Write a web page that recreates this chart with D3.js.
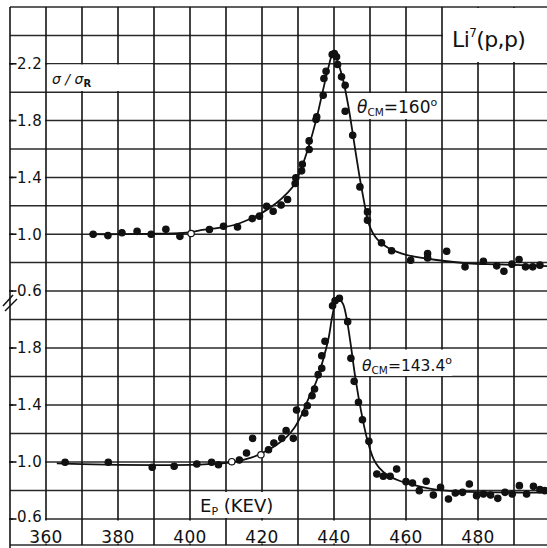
<!DOCTYPE html>
<html>
<head>
<meta charset="utf-8">
<script src="https://cdn.jsdelivr.net/npm/d3@7"></script>
<style>
  html, body { margin: 0; padding: 0; background: #fff; }
  svg { display: block; }
  text { font-family: "DejaVu Sans", sans-serif; fill: #111; }
</style>
</head>
<body>
<svg id="chart" width="547" height="548"></svg>
<script>
// ---------- data ----------
const xTicks = [360, 380, 400, 420, 440, 460, 480];
const yTicksTop = [0.6, 1.0, 1.4, 1.8, 2.2];
const yTicksBot = [0.6, 1.0, 1.4, 1.8];

// theta_CM = 160 deg (upper panel)
const topE = [373.1, 377.2, 381.1, 385.3, 389.2, 393.3, 397.2, 400.3, 405.4, 409.3, 413.2, 417.3, 419.3, 421.3, 423.1, 425.3, 427.1, 429.2, 429.4, 431.0, 431.2, 433.1, 433.1, 435.0, 435.2, 437.0, 437.2, 437.8, 439.5, 440.1, 440.7, 441.0, 442.1, 443.1, 443.1, 445.2, 447.2, 449.3, 449.3, 453.2, 456.0, 461.3, 466.0, 466.0, 471.3, 476.4, 481.5, 485.2, 487.2, 489.4, 491.4, 493.2, 495.2, 497.2];
const topV = [1.00, 0.99, 1.01, 1.02, 1.00, 1.035, 0.985, 1.005, 1.033, 1.056, 1.051, 1.11, 1.127, 1.197, 1.162, 1.206, 1.244, 1.357, 1.397, 1.446, 1.493, 1.596, 1.657, 1.808, 1.826, 1.979, 2.096, 2.148, 2.265, 2.272, 2.249, 2.195, 2.108, 2.049, 1.866, 1.697, 1.333, 1.157, 1.099, 0.939, 0.883, 0.817, 0.864, 0.833, 0.880, 0.770, 0.810, 0.777, 0.739, 0.789, 0.822, 0.770, 0.770, 0.782];
const topOpen = [400.3];
const topCurveE = [372, 380, 390, 400, 403, 408, 412, 416, 420, 424, 427, 429, 431, 433, 435, 437, 438.5, 439.5, 440.3, 441, 442.5, 444, 445.5, 447, 448.2, 449.2, 450, 451.5, 453, 455, 457.5, 460, 464, 468, 477, 486, 500];
const topCurveV = [1.0, 1.0, 1.003, 1.012, 1.028, 1.045, 1.063, 1.10, 1.15, 1.22, 1.29, 1.35, 1.47, 1.62, 1.80, 2.02, 2.18, 2.26, 2.27, 2.22, 2.09, 1.90, 1.66, 1.42, 1.25, 1.12, 1.05, 0.98, 0.94, 0.905, 0.875, 0.855, 0.835, 0.82, 0.795, 0.787, 0.775];

// theta_CM = 143.4 deg (lower panel)
const botE = [365.3, 377.3, 389.5, 395.6, 401.9, 406.0, 407.9, 411.6, 413.7, 415.7, 417.4, 419.7, 421.8, 423.3, 425.5, 426.7, 428.7, 429.6, 431.9, 432.6, 433.9, 434.6, 435.6, 436.6, 436.6, 437.5, 439.6, 440.3, 441.5, 443.8, 444.7, 445.6, 446.8, 447.9, 449.7, 451.9, 453.7, 455.6, 457.4, 460.0, 461.8, 463.7, 465.6, 467.6, 469.6, 471.8, 473.7, 475.7, 477.6, 479.6, 481.5, 483.5, 485.5, 487.5, 489.5, 491.5, 493.5, 495.4, 497.2, 498.6];
const botV = [0.998, 0.998, 0.963, 0.970, 0.986, 0.998, 0.981, 1.002, 1.014, 1.063, 1.166, 1.051, 1.086, 1.133, 1.166, 1.22, 1.166, 1.365, 1.344, 1.395, 1.465, 1.512, 1.613, 1.658, 1.746, 1.847, 2.097, 2.132, 2.149, 1.985, 1.728, 1.566, 1.419, 1.297, 1.145, 0.916, 0.90, 0.90, 0.951, 0.862, 0.853, 0.799, 0.865, 0.768, 0.822, 0.74, 0.782, 0.787, 0.846, 0.764, 0.775, 0.768, 0.745, 0.787, 0.775, 0.834, 0.775, 0.829, 0.806, 0.799];
const botOpen = [411.6, 419.7];
const botCurveE = [363, 370, 380, 390, 400, 405, 412, 417, 421, 424, 427, 429, 431, 433, 435, 437, 438.5, 439.5, 440.5, 441.5, 442.5, 443.5, 444.5, 446, 447.5, 449, 450, 451, 452.5, 455, 458, 462, 467, 472, 480, 490, 500];
const botCurveV = [0.99, 0.985, 0.98, 0.978, 0.98, 0.985, 1.0, 1.03, 1.075, 1.12, 1.18, 1.24, 1.33, 1.45, 1.56, 1.72, 1.87, 2.02, 2.12, 2.14, 2.11, 2.01, 1.85, 1.58, 1.36, 1.18, 1.09, 1.02, 0.96, 0.905, 0.87, 0.84, 0.812, 0.797, 0.788, 0.786, 0.785];

// ---------- scales ----------
const svg = d3.select("#chart");
const x = d3.scaleLinear().domain([350, 500]).range([10, 550]);
const yTop = d3.scaleLinear().domain([0.6, 2.6]).range([291, 7]);
const yBot = d3.scaleLinear().domain([0.6, 2.2]).range([519, 291]);

const gridTop = d3.range(0.6, 2.61, 0.2);
const gridBot = d3.range(0.6, 2.01, 0.2);
const gridX = d3.range(350, 501, 10);

// ---------- grid ----------
const grid = svg.append("g");
grid.selectAll("line.h1").data(gridTop).join("line")
  .attr("x1", 10).attr("x2", 547)
  .attr("y1", d => yTop(d)).attr("y2", d => yTop(d))
  .attr("stroke", "#2a2a2a").attr("stroke-width", 1.5);
grid.selectAll("line.h2").data(gridBot).join("line")
  .attr("x1", 10).attr("x2", 547)
  .attr("y1", d => yBot(d)).attr("y2", d => yBot(d))
  .attr("stroke", "#2a2a2a").attr("stroke-width", 1.5);
grid.append("line").attr("x1", 10).attr("x2", 547)
  .attr("y1", 545).attr("y2", 545)
  .attr("stroke", "#2a2a2a").attr("stroke-width", 1.5);
grid.selectAll("line.v").data(gridX).join("line")
  .attr("x1", d => x(d)).attr("x2", d => x(d))
  .attr("y1", 7).attr("y2", d => d === 350 ? 548 : 545)
  .attr("stroke", "#151515").attr("stroke-width", 1.6);

// ---------- white label boxes covering grid ----------
function box(x0, y0, x1, y1) {
  svg.append("rect").attr("x", x0).attr("y", y0)
    .attr("width", x1 - x0).attr("height", y1 - y0).attr("fill", "#fff");
}
box(47.5, 64.5, 153, 91);      // sigma / sigma_R
box(443, 8, 547, 62);          // Li7(p,p)
box(349, 93, 441, 119);        // theta 160
box(357, 349.5, 452, 376);     // theta 143.4
box(192, 492, 290, 518);       // E_P (KEV)

// ---------- x axis labels ----------
const xl = svg.append("g");
xTicks.forEach(v => {
  xl.append("rect").attr("x", x(v) - 21).attr("y", 520.5).attr("width", 42).attr("height", 23).attr("fill", "#fff");
  xl.append("text").attr("x", x(v)).attr("y", 543).attr("text-anchor", "middle")
    .attr("font-size", 17).attr("letter-spacing", 0.3).text(v);
});

// ---------- y axis labels ----------
const yl = svg.append("g");
function yLabel(v, y, shift) {
  yl.append("rect").attr("x", 13).attr("y", y - 8).attr("width", 32).attr("height", 16).attr("fill", "#fff");
  yl.append("line").attr("x1", 9).attr("x2", 16.5).attr("y1", y).attr("y2", y)
    .attr("stroke", "#111").attr("stroke-width", 1.6);
  yl.append("text").attr("x", 17).attr("y", y - shift).attr("dy", "0.36em")
    .attr("font-size", 15).attr("letter-spacing", 0.5)
    .text(d3.format(".1f")(v));
}
yTicksTop.forEach(v => yLabel(v, yTop(v), 0));
yTicksBot.forEach(v => yLabel(v, yBot(v), v === 0.6 ? 2 : 0));

// break mark
svg.append("line").attr("x1", 3).attr("y1", 306).attr("x2", 13).attr("y2", 295)
  .attr("stroke", "#111").attr("stroke-width", 1.5);
svg.append("line").attr("x1", 5).attr("y1", 311).attr("x2", 17).attr("y2", 299)
  .attr("stroke", "#111").attr("stroke-width", 1.5);

// ---------- curves ----------
const lineTop = d3.line().x(d => x(d[0])).y(d => yTop(d[1])).curve(d3.curveCatmullRom.alpha(0.5));
const lineBot = d3.line().x(d => x(d[0])).y(d => yBot(d[1])).curve(d3.curveCatmullRom.alpha(0.5));
svg.append("path").attr("d", lineTop(d3.zip(topCurveE, topCurveV)))
  .attr("fill", "none").attr("stroke", "#111").attr("stroke-width", 1.8);
svg.append("path").attr("d", lineBot(d3.zip(botCurveE, botCurveV)))
  .attr("fill", "none").attr("stroke", "#111").attr("stroke-width", 1.8);

// ---------- points ----------
function points(E, V, openList, ys) {
  const data = d3.zip(E, V);
  svg.append("g").selectAll("circle").data(data).join("circle")
    .attr("cx", d => x(d[0])).attr("cy", d => ys(d[1])).attr("r", 3.2)
    .attr("fill", d => openList.includes(d[0]) ? "#fff" : "#111")
    .attr("stroke", "#111").attr("stroke-width", 1.2);
}
points(topE, topV, topOpen, yTop);
points(botE, botV, botOpen, yBot);

// ---------- annotations ----------
const s = svg.append("text").attr("x", 52).attr("y", 84).attr("font-size", 14).attr("font-style", "italic");
s.append("tspan").text("σ / σ");
s.append("tspan").attr("font-size", 10).attr("font-style", "normal").attr("font-weight", "bold").attr("dy", 3).text("R");

const li = svg.append("text").attr("x", 452).attr("y", 47).attr("font-size", 22).attr("letter-spacing", -0.6);
li.append("tspan").text("Li");
li.append("tspan").attr("font-size", 12).attr("dy", -10).text("7");
li.append("tspan").attr("dy", 10).text("(p,p)");

function theta(xp, yp, val, fs) {
  const t = svg.append("text").attr("x", xp).attr("y", yp).attr("font-size", fs);
  t.append("tspan").attr("font-style", "italic").text("θ");
  t.append("tspan").attr("font-size", 10.5).attr("dy", 3).text("CM");
  t.append("tspan").attr("dy", -3).text("=" + val);
  t.append("tspan").attr("font-size", 11).attr("dy", -7).text("o");
}
theta(357, 113, "160", 17);
theta(362, 371, "143.4", 15.5);

const ep = svg.append("text").attr("x", 200).attr("y", 512).attr("font-size", 18);
ep.append("tspan").text("E");
ep.append("tspan").attr("font-size", 11).attr("dy", 3).text("P");
ep.append("tspan").attr("dy", -3).text(" (KEV)");
</script>
</body>
</html>
